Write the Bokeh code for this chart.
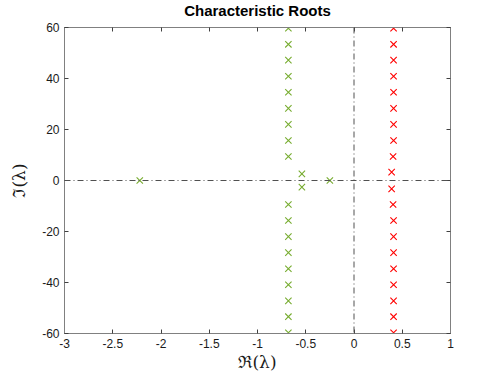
import numpy as np
from bokeh.plotting import figure
from bokeh.models import Range1d, LinearAxis, FixedTicker, Span, CustomJSTickFormatter
from bokeh.embed import file_html
from bokeh.resources import INLINE

# data
green_re = [-0.68]*18 + [-0.54, -0.54, -0.25, -2.22]
green_im = [9.4, 15.7, 22.0, 28.3, 34.6, 40.9, 47.2, 53.4, 59.7,
            -9.4, -15.7, -22.0, -28.3, -34.6, -40.9, -47.2, -53.4, -59.7,
            2.6, -2.6, 0.0, 0.0]
red_re = [0.39, 0.405, 0.41, 0.41, 0.41, 0.41, 0.41, 0.41, 0.41, 0.41,
          0.39, 0.405, 0.41, 0.41, 0.41, 0.41, 0.41, 0.41, 0.41, 0.41]
red_im = [3.3, 9.4, 15.7, 22.0, 28.3, 34.6, 40.9, 47.2, 53.4, 59.7,
          -3.3, -9.4, -15.7, -22.0, -28.3, -34.6, -40.9, -47.2, -53.4, -59.7]
x_ticks = [-3, -2.5, -2, -1.5, -1, -0.5, 0, 0.5, 1]
y_ticks = [-60, -40, -20, 0, 20, 40, 60]

p = figure(output_backend="svg", toolbar_location=None,
           frame_width=386, frame_height=306,
           min_border_left=64, min_border_right=30, min_border_top=0, min_border_bottom=0,
           x_range=Range1d(-3, 1), y_range=Range1d(-60, 60))
p.title.text = "Characteristic Roots"
p.title.align = "center"
p.title.vertical_align = "top"
p.title.text_font = "Liberation Sans"
p.title.text_font_size = "15px"
p.title.text_font_style = "bold"
p.title.text_color = "black"
p.title.standoff = 2
p.grid.visible = False
p.outline_line_color = "#808080"
p.background_fill_color = "white"
p.border_fill_color = "white"

fmt = CustomJSTickFormatter(code="return String(tick);")
blank = CustomJSTickFormatter(code="return '';")

for ax in p.xaxis + p.yaxis:
    ax.formatter = fmt
    ax.major_tick_in = 4
    ax.major_tick_out = 0
    ax.minor_tick_in = 0
    ax.minor_tick_out = 0
    ax.axis_line_color = "#808080"
    ax.major_tick_line_color = "#404040"
    ax.major_label_text_font = "Liberation Sans"
    ax.major_label_text_font_size = "12px"
    ax.major_label_text_color = "#1a1a1a"
    ax.axis_label_text_font = "DejaVu Serif"
    ax.axis_label_text_font_size = "17px"
    ax.axis_label_text_font_style = "normal"
    ax.axis_label_text_color = "#1a1a1a"
p.xaxis.ticker = FixedTicker(ticks=x_ticks)
p.yaxis.ticker = FixedTicker(ticks=y_ticks)
p.xaxis.axis_label = "ℜ(λ)"
p.yaxis.axis_label = "ℑ(λ)"
p.xaxis.major_label_standoff = 5
p.yaxis.major_label_standoff = 5
p.xaxis.axis_label_standoff = 1
p.yaxis.axis_label_standoff = 10

top = LinearAxis(ticker=FixedTicker(ticks=x_ticks), formatter=blank,
                 major_tick_in=4, major_tick_out=0, minor_tick_in=0, minor_tick_out=0,
                 major_label_standoff=0,
                 axis_line_color="#808080", major_tick_line_color="#404040")
spacer = LinearAxis(ticker=FixedTicker(ticks=x_ticks), formatter=blank,
                    major_tick_in=0, major_tick_out=6, minor_tick_in=0, minor_tick_out=0,
                    major_label_standoff=0,
                    axis_line_color=None, major_tick_line_color=None)
right = LinearAxis(ticker=FixedTicker(ticks=y_ticks), formatter=blank,
                   major_tick_in=4, major_tick_out=0, minor_tick_in=0, minor_tick_out=0,
                   major_label_standoff=0,
                   axis_line_color="#808080", major_tick_line_color="#404040")
p.add_layout(top, "above")
p.add_layout(spacer, "above")
p.add_layout(right, "right")

p.add_layout(Span(location=0, dimension="width", line_color="#505050",
                  line_dash="6 3 1 3", line_width=1))
p.add_layout(Span(location=0, dimension="height", line_color="#505050",
                  line_dash="6 3 1 3", line_width=1))

p.scatter(green_re, green_im, marker="x", size=9, line_color="#77AC30", line_width=1.1)
p.scatter(red_re, red_im, marker="x", size=9, line_color="#FF0000", line_width=1.1)

open("out.html", "w").write(file_html(p, INLINE))
